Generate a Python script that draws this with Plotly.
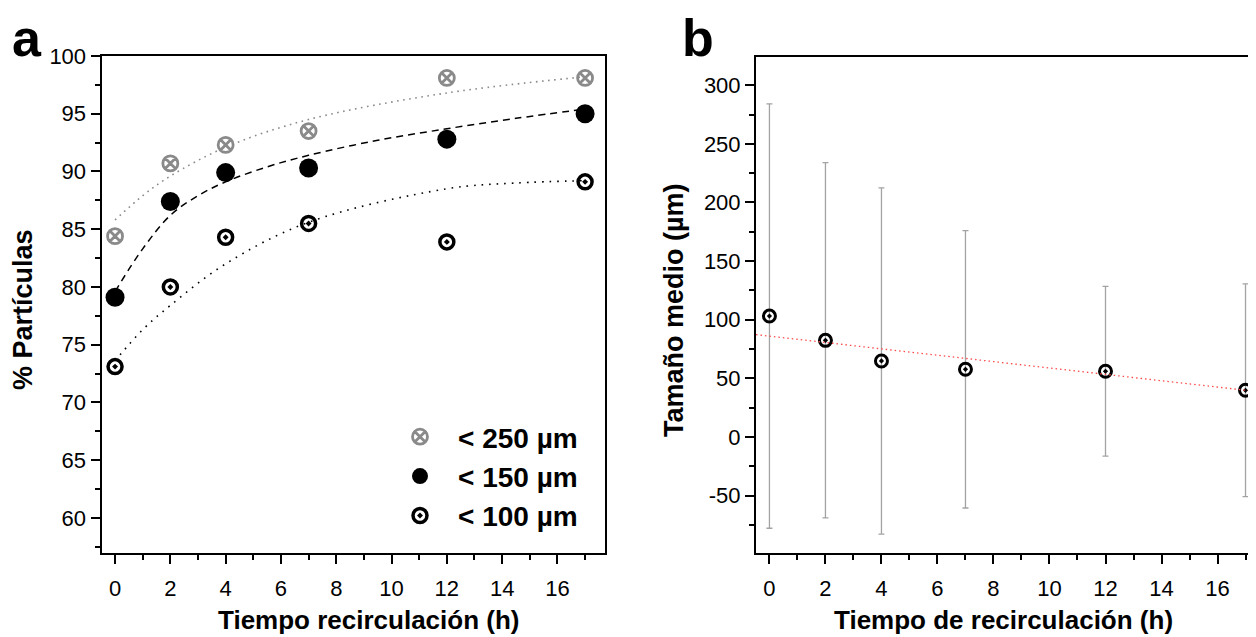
import plotly.graph_objects as go

# ---------------- data ----------------
time_h = [0, 2, 4, 7, 12, 17]
pct_250 = [84.4, 90.7, 92.3, 93.5, 98.1, 98.1]
pct_150 = [79.1, 87.4, 89.9, 90.3, 92.8, 95.0]
pct_100 = [73.1, 80.0, 84.3, 85.5, 83.9, 89.1]
legend_names = ["< 250 µm", "< 150 µm", "< 100 µm"]

fit250_x = [0, 1, 2, 4, 7, 12, 17]
fit250_y = [85.8, 87.9, 89.6, 92.1, 94.5, 96.8, 98.2]
fit150_x = [0, 1, 2, 3, 4, 5.5, 7, 9.5, 12, 14.5, 17]
fit150_y = [79.6, 83.3, 86.2, 87.9, 89.1, 90.4, 91.4, 92.7, 93.7, 94.6, 95.4]
fit100_x = [0, 1, 2, 4, 7, 12, 14.5, 17]
fit100_y = [73.6, 76.3, 78.4, 82.0, 85.6, 88.5, 89.0, 89.2]

size_mean = [103.1, 82.4, 64.8, 57.7, 56.0, 39.8]
size_sd = [181.0, 151.5, 147.7, 118.3, 72.4, 90.7]
fit_b_x = [-0.48, 17.66]
fit_b_y = [87.3, 38.0]

y2_ticks = [-50, 0, 50, 100, 150, 200, 250, 300]
y2_ticktext = ["-50", "0", "50", "100", "150", "200", "250", "300"]

W, H = 1256, 637
FONT = "Liberation Sans, Arial, sans-serif"
GRAY = "#8a8a8a"

fig = go.Figure()

# ---------------- panel a ----------------
fig.add_trace(go.Scatter(x=fit250_x, y=fit250_y, mode="lines", showlegend=False, hoverinfo="skip",
                         line=dict(color=GRAY, width=1.6, dash="1.6px,4.5px", shape="spline")))
fig.add_trace(go.Scatter(x=fit150_x, y=fit150_y, mode="lines", showlegend=False, hoverinfo="skip",
                         line=dict(color="black", width=1.5, dash="7px,5px", shape="spline")))
fig.add_trace(go.Scatter(x=fit100_x, y=fit100_y, mode="lines", showlegend=False, hoverinfo="skip",
                         line=dict(color="black", width=1.6, dash="1.6px,6px", shape="spline")))

fig.add_trace(go.Scatter(x=time_h, y=pct_250, mode="markers", name=legend_names[0],
                         marker=dict(symbol="circle-x-open", size=15, color=GRAY,
                                     line=dict(width=2.8, color=GRAY))))
fig.add_trace(go.Scatter(x=time_h, y=pct_150, mode="markers", name=legend_names[1],
                         marker=dict(symbol="circle", size=19, color="black",
                                     line=dict(width=0, color="black"))))
fig.add_trace(go.Scatter(x=time_h, y=pct_100, mode="markers", name=legend_names[2],
                         marker=dict(symbol="circle-open-dot", size=14, color="black",
                                     line=dict(width=3.5, color="black"))))

# ---------------- panel b ----------------
fig.add_trace(go.Scatter(x=time_h, y=size_mean, mode="markers", showlegend=False, xaxis="x2", yaxis="y2",
                         error_y=dict(type="data", array=size_sd, visible=True, color="#a3a3a3",
                                      thickness=1.3, width=3),
                         marker=dict(symbol="circle-open-dot", size=12, color="black",
                                     line=dict(width=3, color="black"))))
fig.add_trace(go.Scatter(x=fit_b_x, y=fit_b_y, mode="lines", showlegend=False, hoverinfo="skip",
                         xaxis="x2", yaxis="y2",
                         line=dict(color="#ff4a4a", width=1.3, dash="1.5px,3px")))

tickfont = dict(family=FONT, size=22, color="black")
common = dict(showline=True, linewidth=2, linecolor="black", ticks="outside", ticklen=9,
              tickwidth=1.5, tickcolor="black", showgrid=False, zeroline=False, tickfont=tickfont,
              automargin=False)
minor_x = dict(dtick=1, ticks="outside", ticklen=5, tickwidth=1.5, tickcolor="black")

# page body has an 8 px margin: everything is laid out 8 px up/left
OFF = 8

fig.update_layout(
    width=W, height=H, autosize=False,
    margin=dict(l=0, r=0, t=0, b=0),
    paper_bgcolor="white", plot_bgcolor="white",
    xaxis=dict(domain=[(101.5 - OFF) / W, (605 - OFF) / W], range=[-0.49, 17.72], anchor="y",
               mirror=True, tick0=0, dtick=2, minor=minor_x, ticklabelstandoff=6, **common),
    yaxis=dict(domain=[1 - (552.5 - OFF) / H, 1 - (56 - OFF) / H], range=[57, 100], anchor="x",
               mirror=True, tick0=0, dtick=5,
               minor=dict(dtick=2.5, ticks="outside", ticklen=5, tickwidth=1.5, tickcolor="black"),
               **common),
    xaxis2=dict(domain=[(756 - OFF) / W, 1.0], range=[-0.48, 17.66], anchor="y2", mirror=True,
                tick0=0, dtick=2, minor=minor_x, ticklabelstandoff=6, **common),
    yaxis2=dict(domain=[1 - (553 - OFF) / H, 1 - (56.5 - OFF) / H], range=[-99, 324.5], anchor="x2",
                mirror=False, tickmode="array", tickvals=y2_ticks, ticktext=y2_ticktext,
                minor=dict(tickmode="linear", tick0=0, dtick=25, ticks="outside", ticklen=5,
                           tickwidth=1.5, tickcolor="black"),
                **common),
    showlegend=True,
    legend=dict(x=(420 - OFF - 38) / W, y=1 - (412 - OFF) / H, xanchor="left", yanchor="top",
                bgcolor="rgba(0,0,0,0)", borderwidth=0, itemwidth=66,
                font=dict(family=FONT, size=28, color="black", weight="bold"),
                traceorder="normal", itemsizing="trace"),
)

ann = []
def txt(x, y, s, size, angle=0):
    ann.append(dict(x=(x - OFF) / W, y=1 - (y - OFF) / H, xref="paper", yref="paper", text=s,
                    showarrow=False, textangle=angle, xanchor="center", yanchor="middle",
                    font=dict(family=FONT, size=size, color="black", weight="bold")))

txt(27, 38, "a", 52)
txt(698, 38, "b", 52)
txt(368.5, 620, "Tiempo recirculación (h)", 26)
txt(1003, 620, "Tiempo de recirculación (h)", 26)
txt(23, 310, "% Partículas", 27, angle=-90)
txt(674, 310, "Tamaño medio (µm)", 27, angle=-90)
fig.update_layout(annotations=ann)

fig.write_html("out.html")
